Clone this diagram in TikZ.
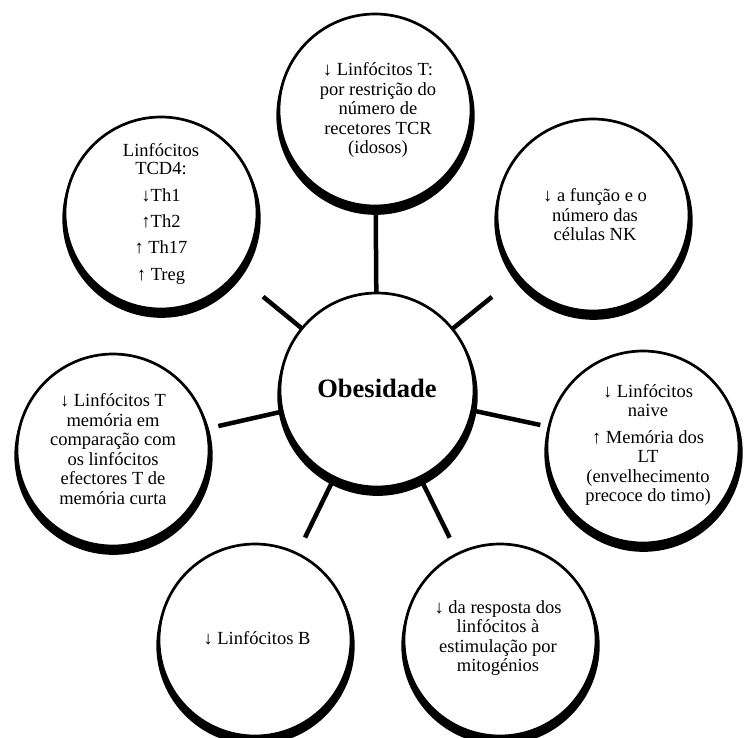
\documentclass[tikz,border=0pt]{standalone}
\usepackage{fontspec}
\setmainfont{Liberation Serif}
\usetikzlibrary{calc,shadows}
\tikzset{
  bubble/.style={circle, draw=black, line width=2.7pt, fill=white, inner sep=0pt,
    minimum size=192pt,
    drop shadow={shadow xshift=0.5pt, shadow yshift=-5.5pt, shadow scale=1.033, fill=black, opacity=1}},
  hub/.style={bubble, minimum size=194pt},
  txt/.style={align=center, inner sep=0pt, font=\fontsize{18.5}{19.5}\selectfont},
  hubtxt/.style={inner sep=0pt, font=\fontsize{26.5}{30}\selectfont\bfseries},
  spoke/.style={draw=black, line width=4.5pt}
}
\begin{document}
\begin{tikzpicture}[x=1pt,y=-1pt]
\useasboundingbox (0,0) rectangle (744,738);
% circles
\node[hub] (c) at (377,390) {};
\node[bubble] (t) at (375,110) {};
\node[bubble] (tl) at (161,213) {};
\node[bubble] (tr) at (593,215) {};
\node[bubble] (l) at (113,450) {};
\node[bubble] (r) at (643,447) {};
\node[bubble] (bl) at (255,640) {};
\node[bubble] (br) at (500,640) {};
% texts
\node[hubtxt] (ct) at (377,388) {Obesidade};
\node[txt] (tt) at (378,110) {↓ Linfócitos T:\\por restrição do\\número de\\recetores TCR\\(idosos)};
\node[txt] (tlt) at (161,214) {Linfócitos\\[-2pt]TCD4:\\[8pt]↓Th1\\[6pt]↑Th2\\[7pt]↑ Th17\\[7pt]↑ Treg};
\node[txt] (trt) at (595,215) {↓ a função e o\\número das\\células NK};
\node[txt] (lt) at (113,449) {↓ Linfócitos T\\memória em\\comparação com\\os linfócitos\\efectores T de\\memória curta};
\node[txt] (rt) at (648,445) {↓ Linfócitos\\naive\\[7pt]↑ Memória dos\\LT\\(envelhecimento\\precoce do timo)};
\node[txt] (blt) at (257,638) {↓ Linfócitos B};
\node[txt] (brt) at (498,638) {↓ da resposta dos\\linfócitos à\\estimulação por\\mitogénios};
% spokes
\draw[spoke] ($(c)!98pt!(t)$) -- ($(t)!105pt!(c)$);
\draw[spoke] ($(c)!98pt!(tl)$) -- ($(tl)!132pt!(c)$);
\draw[spoke] ($(c)!98pt!(tr)$) -- ($(tr)!130pt!(c)$);
\draw[spoke] ($(c)!98pt!(l)$) -- ($(l)!108pt!(c)$);
\draw[spoke] ($(c)!98pt!(r)$) -- ($(r)!105pt!(c)$);
\draw[spoke] ($(c)!98pt!(bl)$) -- ($(bl)!114pt!(c)$);
\draw[spoke] ($(c)!98pt!(br)$) -- ($(br)!114pt!(c)$);
\end{tikzpicture}
\end{document}
